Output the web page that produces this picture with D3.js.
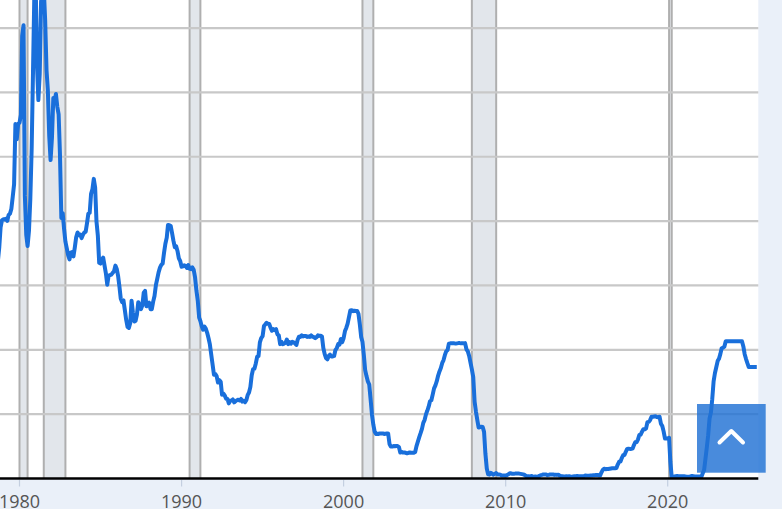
<!DOCTYPE html>
<html>
<head>
<meta charset="utf-8">
<script src="https://cdn.jsdelivr.net/npm/d3@7"></script>
<style>
  html, body { margin: 0; padding: 0; background: #eaf0f9; overflow: hidden; }
  svg { display: block; }
</style>
</head>
<body>
<div id="chart"></div>
<script>
// monthly effective federal funds rate (%), first value = Aug 1978
const startMonth = "1978-08-01";
const rates1970s = [8.04, 8.45, 8.96, 9.76, 10.03,
  10.07, 10.06, 10.09, 10.01, 10.24, 10.29, 10.47, 10.94, 11.43, 13.77, 13.18, 13.78];
const rates1980s = [
  13.82, 14.13, 17.19, 17.61, 10.98, 9.47, 9.03, 9.61, 10.87, 12.81, 15.85, 18.90,
  19.08, 15.93, 14.70, 15.72, 18.52, 19.10, 19.04, 17.82, 15.87, 15.08, 13.31, 12.37,
  13.22, 14.78, 14.68, 14.94, 14.45, 14.15, 12.59, 10.12, 10.31, 9.71, 9.20, 8.95,
  8.68, 8.51, 8.77, 8.80, 8.63, 8.98, 9.37, 9.56, 9.45, 9.48, 9.34, 9.47,
  9.56, 9.59, 9.91, 10.29, 10.32, 11.06, 11.23, 11.64, 11.30, 9.99, 9.43, 8.38,
  8.35, 8.50, 8.58, 8.27, 7.97, 7.53, 7.88, 7.90, 7.92, 7.99, 8.05, 8.27,
  8.14, 7.86, 7.48, 6.99, 6.85, 6.92, 6.56, 6.17, 5.89, 5.85, 6.04, 6.91,
  6.43, 6.10, 6.13, 6.37, 6.85, 6.73, 6.58, 6.73, 7.22, 7.29, 6.69, 6.77,
  6.83, 6.58, 6.58, 6.87, 7.09, 7.51, 7.75, 8.01, 8.19, 8.30, 8.35, 8.76,
  9.12, 9.36, 9.85, 9.84, 9.81, 9.53, 9.24, 8.99, 9.02, 8.84, 8.55, 8.45];
const rates1990s = [
  8.23, 8.24, 8.28, 8.26, 8.18, 8.29, 8.15, 8.13, 8.20, 8.11, 7.81, 7.31,
  6.91, 6.25, 6.12, 5.91, 5.78, 5.90, 5.82, 5.66, 5.45, 5.21, 4.81, 4.43,
  4.03, 4.06, 3.98, 3.73, 3.82, 3.76, 3.25, 3.30, 3.22, 3.10, 3.09, 2.92,
  3.02, 3.03, 3.07, 2.96, 3.00, 3.04, 3.06, 3.03, 3.09, 2.99, 3.02, 2.96,
  3.05, 3.25, 3.34, 3.56, 4.01, 4.25, 4.26, 4.47, 4.73, 4.76, 5.29, 5.45,
  5.53, 5.92, 5.98, 6.05, 6.01, 6.00, 5.85, 5.74, 5.80, 5.76, 5.80, 5.60,
  5.56, 5.22, 5.31, 5.22, 5.24, 5.27, 5.40, 5.22, 5.30, 5.24, 5.31, 5.29,
  5.25, 5.19, 5.39, 5.51, 5.50, 5.56, 5.52, 5.54, 5.54, 5.50, 5.52, 5.50,
  5.56, 5.51, 5.49, 5.45, 5.49, 5.56, 5.54, 5.55, 5.51, 5.07, 4.83, 4.68,
  4.63, 4.76, 4.81, 4.74, 4.74, 4.76, 4.99, 5.07, 5.22, 5.20, 5.42, 5.30];
const rates2000s = [
  5.45, 5.73, 5.85, 6.02, 6.27, 6.53, 6.54, 6.50, 6.52, 6.51, 6.51, 6.40,
  5.98, 5.49, 5.31, 4.80, 4.21, 3.97, 3.77, 3.65, 3.07, 2.49, 2.09, 1.82,
  1.73, 1.74, 1.73, 1.75, 1.75, 1.75, 1.73, 1.74, 1.75, 1.75, 1.34, 1.24,
  1.24, 1.26, 1.25, 1.26, 1.26, 1.22, 1.01, 1.03, 1.01, 1.01, 1.00, 0.98,
  1.00, 1.01, 1.00, 1.00, 1.00, 1.03, 1.26, 1.43, 1.61, 1.76, 1.93, 2.16,
  2.28, 2.50, 2.63, 2.79, 3.00, 3.04, 3.26, 3.50, 3.62, 3.78, 4.00, 4.16,
  4.29, 4.49, 4.59, 4.79, 4.94, 4.99, 5.24, 5.25, 5.25, 5.25, 5.25, 5.24,
  5.25, 5.26, 5.26, 5.25, 5.25, 5.25, 5.26, 5.02, 4.94, 4.76, 4.49, 4.24,
  3.94, 2.98, 2.61, 2.28, 1.98, 2.00, 2.01, 2.00, 1.81, 0.97, 0.39, 0.16,
  0.15, 0.22, 0.18, 0.15, 0.18, 0.21, 0.16, 0.16, 0.15, 0.12, 0.12, 0.12];
const rates2010s = [
  0.11, 0.13, 0.16, 0.20, 0.20, 0.18, 0.18, 0.19, 0.19, 0.19, 0.19, 0.18,
  0.17, 0.16, 0.14, 0.10, 0.09, 0.09, 0.07, 0.10, 0.08, 0.07, 0.08, 0.07,
  0.08, 0.10, 0.13, 0.14, 0.16, 0.16, 0.16, 0.13, 0.14, 0.16, 0.16, 0.16,
  0.14, 0.15, 0.14, 0.15, 0.11, 0.09, 0.09, 0.08, 0.08, 0.09, 0.08, 0.09,
  0.07, 0.07, 0.08, 0.09, 0.09, 0.10, 0.09, 0.09, 0.09, 0.09, 0.09, 0.12,
  0.11, 0.11, 0.11, 0.12, 0.12, 0.13, 0.13, 0.14, 0.14, 0.12, 0.12, 0.24,
  0.34, 0.38, 0.36, 0.37, 0.37, 0.38, 0.39, 0.40, 0.40, 0.40, 0.41, 0.54,
  0.65, 0.66, 0.79, 0.90, 0.91, 1.04, 1.15, 1.16, 1.15, 1.15, 1.16, 1.30,
  1.41, 1.42, 1.51, 1.69, 1.70, 1.82, 1.91, 1.91, 1.95, 2.19, 2.20, 2.27,
  2.40, 2.40, 2.41, 2.42, 2.39, 2.38, 2.40, 2.13, 2.04, 1.83, 1.55, 1.55];
const rates2020s = [
  1.55, 1.58, 0.65, 0.05, 0.05, 0.08, 0.09, 0.10, 0.09, 0.09, 0.09, 0.09,
  0.09, 0.08, 0.07, 0.07, 0.06, 0.08, 0.10, 0.09, 0.08, 0.08, 0.08, 0.08,
  0.08, 0.08, 0.20, 0.33, 0.77, 1.21, 1.68, 2.33, 2.56, 3.08, 3.78, 4.10,
  4.33, 4.57, 4.65, 4.83, 5.06, 5.08, 5.12, 5.33, 5.33, 5.33, 5.33, 5.33,
  5.33, 5.33, 5.33, 5.33, 5.33, 5.33, 5.33, 5.33, 5.13, 4.83, 4.64, 4.48,
  4.33, 4.33, 4.33, 4.33, 4.33, 4.33, 4.33];

// NBER recessions (peak month, trough month)
const recessions = [
  ["1980-01-01", "1980-07-01"],
  ["1981-07-01", "1982-11-01"],
  ["1990-07-01", "1991-03-01"],
  ["2001-03-01", "2001-11-01"],
  ["2007-12-01", "2009-06-01"],
  ["2020-02-01", "2020-04-01"]
];
const tickYears = [1980, 1990, 2000, 2010, 2020];
const gridValues = [2.5, 5, 7.5, 10, 12.5, 15, 17.5];

const W = 782, H = 509;
const plot = { right: 758.3, bottom: 478.5 };

const parse = d3.utcParse("%Y-%m-%d");
const start = parse(startMonth);
const data = [].concat(rates1970s, rates1980s, rates1990s, rates2000s, rates2010s, rates2020s)
  .map((v, i) => ({ date: d3.utcMonth.offset(start, i), value: v }));

const x = d3.scaleUtc()
  .domain([new Date(Date.UTC(1980, 0, 1)), new Date(Date.UTC(2020, 0, 1))])
  .range([19.5, 667.7]);
const y = d3.scaleLinear()
  .domain([0, 17.5])
  .range([plot.bottom, 28.05]);

const svg = d3.select("#chart").append("svg")
  .attr("width", W)
  .attr("height", H);

svg.append("defs").append("clipPath").attr("id", "plotClip")
  .append("rect")
  .attr("width", plot.right)
  .attr("height", plot.bottom);

// white plot background
svg.append("rect")
  .attr("width", plot.right)
  .attr("height", plot.bottom)
  .attr("fill", "#ffffff");

// recession shading
const bands = svg.append("g");
recessions.forEach(r => {
  const x0 = x(parse(r[0])), x1 = x(parse(r[1]));
  bands.append("rect")
    .attr("x", x0).attr("y", 0)
    .attr("width", x1 - x0).attr("height", plot.bottom)
    .attr("fill", "#e2e6eb");
  [x0, x1].forEach(xx => {
    bands.append("line")
      .attr("x1", xx).attr("x2", xx)
      .attr("y1", 0).attr("y2", plot.bottom)
      .attr("stroke", "#afafaf")
      .attr("stroke-width", 2);
  });
});

// horizontal gridlines
svg.append("g")
  .selectAll("line")
  .data(gridValues)
  .join("line")
  .attr("x1", 0).attr("x2", plot.right)
  .attr("y1", d => y(d)).attr("y2", d => y(d))
  .attr("stroke", "#c8c8c8")
  .attr("stroke-width", 2.2);

// series line
const line = d3.line()
  .x(d => x(d.date))
  .y(d => y(d.value));

svg.append("path")
  .datum(data)
  .attr("clip-path", "url(#plotClip)")
  .attr("d", line)
  .attr("fill", "none")
  .attr("stroke", "#196fdb")
  .attr("stroke-width", 4)
  .attr("stroke-linejoin", "round");

// x axis
const axisG = svg.append("g").attr("transform", "translate(0," + plot.bottom + ")");
axisG.append("line")
  .attr("x1", 0).attr("x2", plot.right)
  .attr("stroke", "#000")
  .attr("stroke-width", 2.6);
axisG.selectAll(".tick")
  .data(tickYears)
  .join("line")
  .attr("x1", d => x(new Date(Date.UTC(d, 0, 1))))
  .attr("x2", d => x(new Date(Date.UTC(d, 0, 1))))
  .attr("y1", 1.5).attr("y2", 8)
  .attr("stroke", "#c4cfe0")
  .attr("stroke-width", 1.2);
axisG.selectAll("text")
  .data(tickYears)
  .join("text")
  .attr("x", d => x(new Date(Date.UTC(d, 0, 1))))
  .attr("y", 29)
  .attr("text-anchor", "middle")
  .style("font-family", "'Open Sans', sans-serif")
  .style("font-size", "18px")
  .style("fill", "#555")
  .text(d => d);

// back-to-top button
const btn = svg.append("g");
btn.append("rect")
  .attr("x", 697).attr("y", 404)
  .attr("width", 68.7).attr("height", 68.7)
  .attr("fill", "#2172d4")
  .attr("opacity", 0.82);
btn.append("polyline")
  .attr("points", "719.5,442.5 731.3,431 743,442.5")
  .attr("fill", "none")
  .attr("stroke", "#fff")
  .attr("stroke-width", 4)
  .attr("stroke-linecap", "round")
  .attr("stroke-linejoin", "round");
</script>
</body>
</html>
